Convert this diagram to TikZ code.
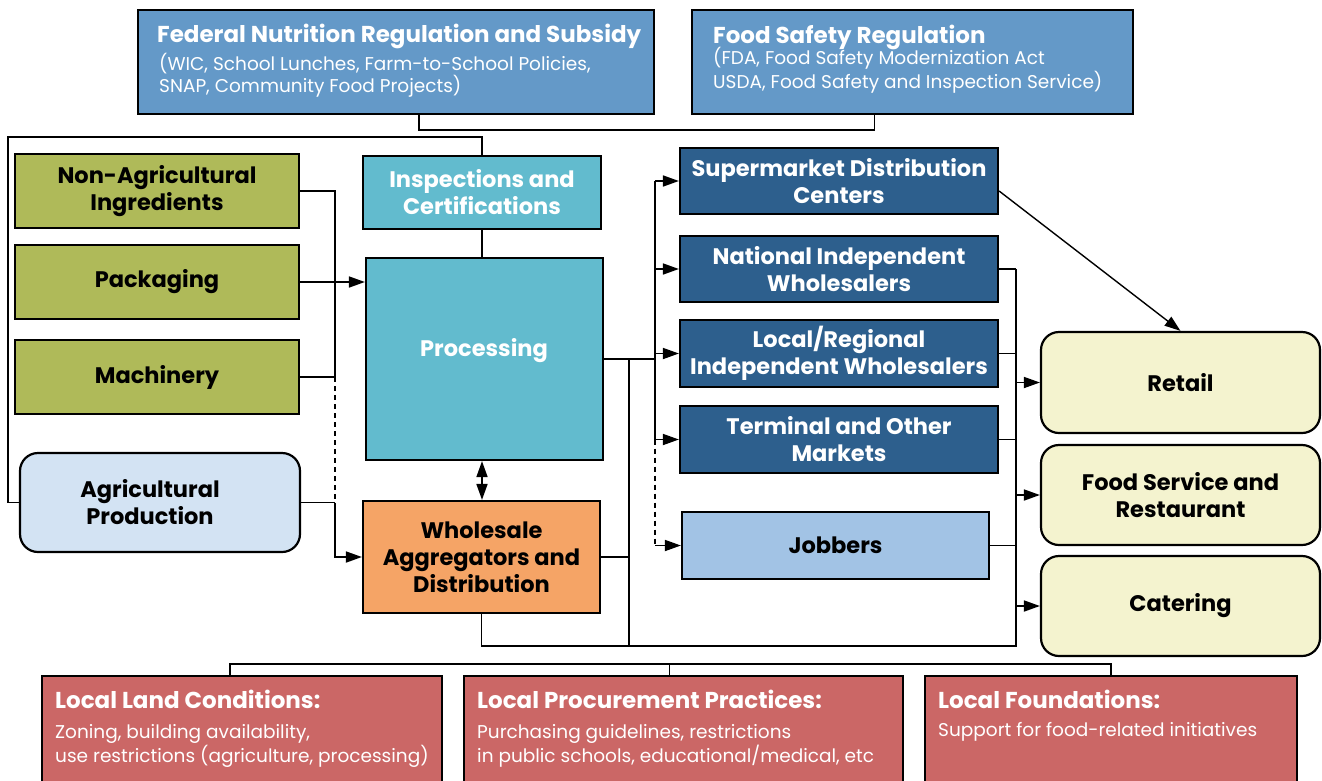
\documentclass[tikz,border=0pt]{standalone}
\usepackage{fontspec}
\setmainfont{Poppins}
\usetikzlibrary{arrows.meta}
\definecolor{topblue}{HTML}{6499C8}
\definecolor{tealc}{HTML}{62BBCE}
\definecolor{orangec}{HTML}{F5A466}
\definecolor{olivec}{HTML}{AFBA59}
\definecolor{darkblue}{HTML}{2D5F8D}
\definecolor{jobblue}{HTML}{A2C3E5}
\definecolor{agblue}{HTML}{D3E3F3}
\definecolor{creamc}{HTML}{F4F3CF}
\definecolor{redc}{HTML}{CB6766}
\newcommand\labfont{\bfseries\fontsize{22.5}{27}\selectfont}
\newcommand\ttlfont{\bfseries\fontsize{23}{26}\selectfont}
\newcommand\subfont{\fontsize{18.5}{22}\selectfont}
\tikzset{
  bx/.style={draw=black, line width=2.2pt, inner sep=2pt, align=center, font=\labfont},
  rbx/.style={bx, rounded corners=18pt},
  ttl/.style={anchor=base west, inner sep=0pt, text=white, font=\ttlfont},
  sub/.style={anchor=base west, inner sep=0pt, text=white, align=left, font=\subfont},
  ln/.style={draw=black, line width=1.7pt},
  tip/.tip={Triangle[length=16pt,width=11pt]},
  arr/.style={ln, -tip},
  darr/.style={ln, tip-tip},
  dln/.style={ln, dash pattern=on 5pt off 4pt}
}
\begin{document}
\begin{tikzpicture}[x=1pt,y=-1pt]
\clip (0,0) rectangle (1322,780);
\fill[white] (0,0) rectangle (1322,780);
% top regulation boxes
\node[bx, fill=topblue, minimum width=516, minimum height=104] (fed) at (396,62) {};
\node[ttl] (fedt) at (157,42) {Federal Nutrition Regulation and Subsidy};
\node[sub] (feds) at (159,92) {(WIC, School Lunches, Farm-to-School Policies,\\SNAP, Community Food Projects)};
\node[bx, fill=topblue, minimum width=441, minimum height=104] (fsr) at (912.5,62) {};
\node[ttl] (fsrt) at (713,43) {Food Safety Regulation};
\node[sub] (fsrs) at (713,88) {(FDA, Food Safety Modernization Act\\USDA, Food Safety and Inspection Service)};
% left inputs
\node[bx, fill=olivec, minimum width=284, minimum height=74] (nonag) at (157,191) {Non-Agricultural\\Ingredients};
\node[bx, fill=olivec, minimum width=284, minimum height=74] (pack) at (157,282) {Packaging};
\node[bx, fill=olivec, minimum width=284, minimum height=74] (mach) at (157,377) {Machinery};
\node[rbx, fill=agblue, minimum width=280, minimum height=99] (agp) at (160,502.5) {};
\node[inner sep=0pt, align=center, font=\labfont] (agpt) at (150,502) {Agricultural\\Production};
% center
\node[bx, fill=tealc, text=white, minimum width=238, minimum height=73] (insp) at (482,192.5) {Inspections and\\Certifications};
\node[bx, fill=tealc, text=white, minimum width=237, minimum height=202] (proc) at (484.5,359) {};
\node[inner sep=0pt, text=white, font=\labfont] (proct) at (484,351) {Processing};
\node[bx, fill=orangec, minimum width=237, minimum height=112] (whol) at (481.5,557) {Wholesale\\Aggregators and\\Distribution};
% distribution
\node[bx, fill=darkblue, text=white, minimum width=318, minimum height=66] (sup) at (839,181) {Supermarket Distribution\\Centers};
\node[bx, fill=darkblue, text=white, minimum width=318, minimum height=66] (nat) at (839,269) {National Independent\\Wholesalers};
\node[bx, fill=darkblue, text=white, minimum width=318, minimum height=67] (loc) at (839,353.5) {Local/Regional\\Independent Wholesalers};
\node[bx, fill=darkblue, text=white, minimum width=318, minimum height=67] (term) at (839,439.5) {Terminal and Other\\Markets};
\node[bx, fill=jobblue, minimum width=307, minimum height=67] (job) at (835.5,545.5) {Jobbers};
% consumers
\node[rbx, fill=creamc, minimum width=279, minimum height=101] (ret) at (1180.5,382.5) {Retail};
\node[rbx, fill=creamc, minimum width=279, minimum height=100] (fsv) at (1180.5,495) {Food Service and\\Restaurant};
\node[rbx, fill=creamc, minimum width=279, minimum height=100] (cat) at (1180.5,606) {Catering};
% bottom local boxes
\node[bx, fill=redc, minimum width=400, minimum height=140] (land) at (242,746) {};
\node[ttl] (landt) at (55,708) {Local Land Conditions:};
\node[sub] (lands) at (55,762) {Zoning, building availability,\\use restrictions (agriculture, processing)};
\node[bx, fill=redc, minimum width=439, minimum height=140] (procu) at (683.5,746) {};
\node[ttl] (procut) at (477,708) {Local Procurement Practices:};
\node[sub] (procus) at (477,762) {Purchasing guidelines, restrictions\\in public schools, educational/medical, etc};
\node[bx, fill=redc, minimum width=372, minimum height=140] (found) at (1111,746) {};
\node[ttl] (foundt) at (938,708) {Local Foundations:};
\node[sub] (founds) at (938,736) {Support for food-related initiatives};
% bus coordinates
\coordinate (lb) at (335,0);
\coordinate (db) at (655,0);
\coordinate (mb) at (629,0);
\coordinate (rb) at (1016,0);
\coordinate (bt) at (0,646);
\coordinate (bl) at (0,664);
\coordinate (tl) at (0,130);
\coordinate (il) at (8,137);
% regulation connector
\draw[ln] ([xshift=23]fed.south) |- ([xshift=-38]fsr.south |- tl) -- ([xshift=-38]fsr.south);
% inspections loop
\draw[ln] (agp.west) -| (il) -| (insp.north);
\draw[ln] (insp.south) -- (insp.south |- proc.north);
% left inputs
\draw[ln] (nonag.east) -| (lb |- mach.east) -- (mach.east);
\draw[arr] (pack.east) -- (pack.east -| proc.west);
\draw[dln] (lb |- mach.east) -- (lb |- agp.east);
\draw[ln] (agp.east) -- (lb |- agp.east);
\draw[arr] (lb |- agp.east) |- (whol.west);
% processing <-> wholesale
\draw[darr] (proc.south -| insp.south) -- (whol.north -| insp.south);
% processing to distribution
\draw[ln] (proc.east) -- (proc.east -| db);
\draw[ln] (proc.east -| mb) -- (mb |- bt);
\draw[ln] (whol.east) -- (whol.east -| mb);
\draw[ln] (whol.south) |- (rb |- bt) -- (rb |- nat.east);
\draw[ln] (db |- sup.west) -- (db |- term.west);
\draw[dln] (db |- term.west) -- (db |- job.west);
\foreach \n in {sup,nat,loc,term,job} \draw[arr] (db |- \n.west) -- (\n.west);
\foreach \n in {nat,loc,term,job} \draw[ln] (\n.east) -- (\n.east -| rb);
\foreach \n in {ret,fsv,cat} \draw[arr] (rb |- \n.west) -- (\n.west);
\draw[arr, line width=1.4pt] ([yshift=-10]sup.east) -- (ret.north);
% bottom connector
\draw[ln] ([xshift=-12]land.north) |- (found.north |- bl) -- (found.north);
\draw[ln] ([xshift=-14]procu.north) -- ([xshift=-14]procu.north |- bl);
\end{tikzpicture}
\end{document}
